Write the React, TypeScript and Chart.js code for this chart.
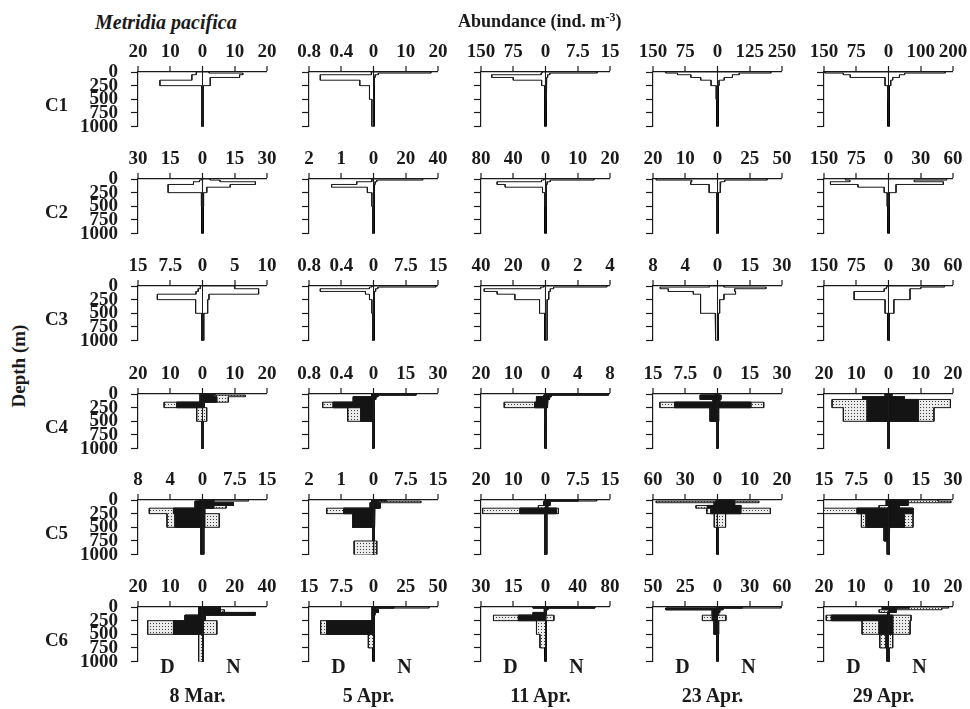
import React, { useEffect, useRef } from 'react';
import { Chart, registerables } from 'chart.js';

Chart.register(...registerables);

// Sampling layers (m) and axis ticks
const DEPTH_EDGES = [0, 20, 50, 100, 150, 250, 500, 750, 1000];
const DEPTH_TICKS = [0, 250, 500, 750, 1000];
const DATES = ['8 Mar.', '5 Apr.', '11 Apr.', '23 Apr.', '29 Apr.'];
const STAGES = ['C1', 'C2', 'C3', 'C4', 'C5', 'C6'];

// Axis maxima (ind. m-3): day to the left, night to the right; rows = stage, cols = date
const DAY_MAX = [
  [20, 0.8, 150, 150, 150],
  [30, 2, 80, 20, 150],
  [15, 0.8, 40, 8, 150],
  [20, 0.8, 20, 15, 20],
  [8, 2, 20, 60, 15],
  [20, 15, 30, 50, 20],
];
const NIGHT_MAX = [
  [20, 20, 15, 250, 200],
  [30, 40, 20, 50, 60],
  [10, 15, 4, 30, 60],
  [20, 30, 8, 30, 20],
  [15, 15, 15, 20, 30],
  [40, 50, 80, 60, 20],
];

// C1-C3: abundance per layer (one array per date)
const c1Day = [
  [1.8, 2, 3.3, 3.3, 13.2, 0.3, 0.2, 0.2],
  [0.02, 0.03, 0.66, 0.66, 0.17, 0.05, 0.02, 0.02],
  [8, 10, 125, 75, 9, 1, 0.5, 0.5],
  [120, 93, 62, 39, 15, 3, 0.5, 0.5],
  [148, 105, 89, 8, 8, 2, 0.5, 0.5],
];
const c1Night = [
  [2, 12.5, 11.5, 2.4, 2.4, 0.3, 0.2, 0.2],
  [17.8, 1.5, 0.5, 0.3, 0.2, 0.1, 0.1, 0.1],
  [12, 1, 0.5, 0.3, 0.2, 0.2, 0.1, 0.1],
  [207, 84, 58, 26, 6, 1, 0.5, 0.5],
  [176, 50, 34, 13, 7, 1, 0.5, 0.5],
];
const c2Day = [
  [0.5, 1.4, 4.2, 16, 16, 0.5, 0.2, 0.2],
  [0.05, 0.05, 0.52, 1.3, 0.19, 0.05, 0.02, 0.02],
  [2, 5, 60, 50, 3.7, 1, 0.3, 0.3],
  [19, 8, 8.3, 2.6, 2.6, 0.3, 0.2, 0.2],
  [100, 90, 135, 71, 10, 3, 1, 0.5],
];
const c2Night = [
  [3.6, 8.2, 24.6, 12.9, 2, 0.5, 0.2, 0.2],
  [30.5, 2, 1, 0.3, 0.3, 0.2, 0.1, 0.1],
  [15, 1.5, 0.5, 0.3, 0.3, 0.2, 0.1, 0.1],
  [38.5, 5.6, 2.6, 2, 2, 0.3, 0.2, 0.2],
  [54, 24, 51, 7, 7, 0.5, 0.3, 0.3],
];
const c3Day = [
  [0.5, 0.5, 1, 1.5, 10.5, 1.6, 0.2, 0.2],
  [0.02, 0.05, 0.66, 0.1, 0.05, 0.02, 0.01, 0.01],
  [1, 3, 38, 30, 19, 3.7, 0.3, 0.3],
  [1, 7.1, 6.1, 3, 2.1, 2.1, 0.3, 0.2],
  [3, 5, 10, 80, 80, 8, 0.5, 0.5],
];
const c3Night = [
  [5, 5, 8.7, 8.7, 1, 0.8, 0.2, 0.2],
  [14.5, 1, 0.5, 0.2, 0.2, 0.1, 0.1, 0.1],
  [3.8, 0.5, 0.3, 0.2, 0.2, 0.1, 0.1, 0.1],
  [3, 22.5, 8, 8.4, 3, 1, 0.3, 0.2],
  [52, 30, 20, 20, 20, 5, 0.5, 0.5],
];

// C4-C6: solid part and stippled part (stacked outward)
const c4DayBlack = [
  [0.7, 0.7, 0.7, 0.7, 8, 0, 0.3, 0.3],
  [0.02, 0.02, 0.25, 0.25, 0.5, 0.16, 0.01, 0.01],
  [0.3, 0.5, 2.8, 2.8, 3.3, 0.2, 0.1, 0.1],
  [0.5, 4, 4, 1, 10, 1.7, 0.2, 0.2],
  [1, 1, 8, 6.6, 6.6, 6.6, 0.2, 0.2],
];
const c4DayDot = [
  [0, 0, 0, 0, 3.9, 1.8, 0, 0],
  [0, 0, 0, 0, 0.13, 0.16, 0, 0],
  [0, 0, 0, 0, 9.5, 0, 0, 0],
  [0, 0, 0, 0, 3.4, 0, 0, 0],
  [0, 0, 0, 10.9, 10.9, 7.4, 0, 0],
];
const c4NightBlack = [
  [3.9, 3, 4.4, 4.4, 0.5, 0, 0.3, 0.3],
  [19.8, 2, 1, 0.5, 0.3, 0.2, 0.1, 0.1],
  [7.8, 0.7, 0.5, 0.3, 0.2, 0.1, 0.1, 0.1],
  [0.5, 1.5, 1.5, 1, 15.5, 0.5, 0.2, 0.2],
  [1, 1, 4.9, 9.2, 9.2, 9.2, 0.2, 0.2],
];
const c4NightDot = [
  [0, 10.3, 3.6, 3.6, 0, 1.3, 0, 0],
  [0, 0, 0, 0, 0, 0, 0, 0],
  [0, 0, 0, 0, 0, 0, 0, 0],
  [0, 0, 0, 0, 6, 0, 0, 0],
  [0, 0, 0, 10, 10, 4.9, 0, 0],
];
const c5DayBlack = [
  [0.3, 0.9, 0.9, 0.9, 3.6, 3.4, 0.2, 0.2],
  [0.05, 0.05, 0.1, 0.1, 0.93, 0.65, 0.02, 0],
  [0.3, 0.5, 0.5, 0, 7.9, 0.3, 0.3, 0.3],
  [0.3, 2, 3, 9.4, 6, 0, 0.2, 0.2],
  [0.5, 0.5, 0.5, 0, 7.3, 5.2, 1, 0.3],
];
const c5DayDot = [
  [0, 0, 0, 0, 3, 1, 0, 0],
  [0, 0, 0, 0, 0.52, 0, 0, 0.6],
  [0, 0, 0, 2.2, 11.6, 0, 0, 0],
  [0, 55, 0, 10.6, 4, 3, 0, 0],
  [0, 0, 0, 2.2, 7.9, 1.1, 0, 0],
];
const c5NightBlack = [
  [2.6, 2.6, 7.2, 2.6, 0.5, 0.5, 0.3, 0.3],
  [3, 1, 1.5, 1.5, 0.3, 0.2, 0.1, 0],
  [7.6, 1, 1, 0.5, 2.5, 0.3, 0.3, 0.3],
  [5.3, 5.3, 5.3, 7.2, 7.2, 0, 0.2, 0.2],
  [9, 9, 9, 5, 11.4, 7.4, 0.5, 0.3],
];
const c5NightDot = [
  [8.1, 0, 0, 2.9, 0, 3.4, 0, 0],
  [0, 10, 0, 0, 0, 0, 0, 0.76],
  [4.3, 0, 0, 0, 0.5, 0, 0, 0],
  [0, 7.5, 0, 0, 9.2, 2.5, 0, 0],
  [14, 20, 0, 0, 0, 4, 0, 0],
];
const c6DayBlack = [
  [1.2, 1.2, 1.2, 1.2, 5.4, 9, 0, 0],
  [0.3, 0.3, 0.3, 0.3, 0.3, 10.9, 0, 0],
  [5.7, 0.5, 0.5, 5.7, 12.6, 0, 0, 0],
  [0.5, 40, 4, 4, 4, 2.6, 0.3, 0.3],
  [1.9, 1.9, 0, 0, 17.7, 2.9, 0.8, 0.5],
];
const c6DayDot = [
  [0, 0, 0, 0, 0, 8, 1.2, 1.2],
  [0, 0, 0, 0, 0, 1.4, 1.2, 0],
  [0, 0, 0, 0, 11.6, 4.2, 2.6, 0],
  [0, 0, 0, 0, 7.7, 0, 0, 0],
  [0, 0, 2.9, 0, 1.6, 5.3, 1.9, 0],
];
const c6NightBlack = [
  [11, 11, 11, 32.7, 1.6, 0.5, 0.5, 0.5],
  [15.7, 1, 3.8, 1, 0.3, 0.3, 0.3, 0.3],
  [61, 3, 0.5, 0.5, 0, 0.5, 0.5, 0.5],
  [23, 5, 2, 1, 0, 1, 0.3, 0.3],
  [6.5, 2.5, 2.3, 0, 1.3, 1.3, 0, 0.3],
];
const c6NightDot = [
  [0, 0, 2.5, 0, 0, 8.4, 0, 0],
  [27.3, 0, 0, 0, 0, 0, 0, 0],
  [0, 0, 0, 0, 10.4, 0, 0, 0],
  [36, 0, 0, 0, 7.8, 0, 0, 0],
  [12.1, 14, 0, 0, 5.7, 5.4, 1.3, 0],
];

const WHITE_DAY = [c1Day, c2Day, c3Day];
const WHITE_NIGHT = [c1Night, c2Night, c3Night];
const BLACK_DAY = [c4DayBlack, c5DayBlack, c6DayBlack];
const DOT_DAY = [c4DayDot, c5DayDot, c6DayDot];
const BLACK_NIGHT = [c4NightBlack, c5NightBlack, c6NightBlack];
const DOT_NIGHT = [c4NightDot, c5NightDot, c6NightDot];

// Page geometry
const COL_LEFT = [138, 309, 481, 653, 824];
const ROW_TOP = [72, 179, 286, 394, 500, 607];
const PLOT_W = 129;
const PLOT_H = 65;
const Y_AXIS_W = 70;
const X_AXIS_H = 36;
const PAD_R = 26;
const PAD_B = 14;

const INK = '#1a1a1a';
const SERIF = "'Liberation Serif', 'Times New Roman', serif";
const TICK_FONT = { family: SERIF, size: 19, weight: 'bold' as const };

const fmt = (v: number) => String(Math.round(v * 100) / 100);

// Closed outline of a layer spanning from `inner` to `outer` in each depth bin
function bandPolygon(inner: number[], outer: number[]) {
  const pts: { x: number; y: number }[] = [];
  pts.push({ x: inner[0], y: DEPTH_EDGES[0] });
  for (let i = 0; i < outer.length; i++) {
    pts.push({ x: outer[i], y: DEPTH_EDGES[i] });
    pts.push({ x: outer[i], y: DEPTH_EDGES[i + 1] });
  }
  for (let i = inner.length - 1; i >= 0; i--) {
    pts.push({ x: inner[i], y: DEPTH_EDGES[i + 1] });
    pts.push({ x: inner[i], y: DEPTH_EDGES[i] });
  }
  return pts;
}

function makeStipple(): CanvasPattern | string {
  const c = document.createElement('canvas');
  c.width = 3;
  c.height = 3;
  const g = c.getContext('2d');
  if (!g) return '#ccc';
  g.fillStyle = '#ececec';
  g.fillRect(0, 0, 3, 3);
  g.fillStyle = '#3a3a3a';
  g.fillRect(1, 1, 1, 1);
  return g.createPattern(c, 'repeat') || '#ccc';
}

function layerDataset(data: { x: number; y: number }[], axis: string, fill: any) {
  return {
    data,
    xAxisID: axis,
    yAxisID: 'y',
    showLine: true,
    fill: 'shape',
    backgroundColor: fill,
    borderColor: INK,
    borderWidth: 1,
    pointRadius: 0,
    tension: 0,
  };
}

function buildDatasets(row: number, col: number, stipple: any) {
  const zeros = DEPTH_EDGES.slice(1).map(() => 0);
  const sets: any[] = [];
  if (row < 3) {
    sets.push(layerDataset(bandPolygon(zeros, WHITE_DAY[row][col]), 'xDay', '#ffffff'));
    sets.push(layerDataset(bandPolygon(zeros, WHITE_NIGHT[row][col]), 'xNight', '#ffffff'));
  } else {
    const k = row - 3;
    const sides: [number[], number[], string][] = [
      [BLACK_DAY[k][col], DOT_DAY[k][col], 'xDay'],
      [BLACK_NIGHT[k][col], DOT_NIGHT[k][col], 'xNight'],
    ];
    for (const [black, dot, axis] of sides) {
      const total = black.map((b, i) => b + dot[i]);
      sets.push(layerDataset(bandPolygon(zeros, black), axis, '#141414'));
      sets.push(layerDataset(bandPolygon(black, total), axis, stipple));
    }
  }
  return sets;
}

function Panel({ row, col }: { row: number; col: number }) {
  const ref = useRef<HTMLCanvasElement | null>(null);
  useEffect(() => {
    if (!ref.current) return;
    const L = DAY_MAX[row][col];
    const R = NIGHT_MAX[row][col];
    const chart = new Chart(ref.current, {
      type: 'scatter',
      data: { datasets: buildDatasets(row, col, makeStipple()) },
      options: {
        animation: false,
        responsive: false,
        devicePixelRatio: 1,
        events: [],
        layout: { padding: { left: 0, top: 0, right: PAD_R, bottom: PAD_B } },
        plugins: { legend: { display: false }, tooltip: { enabled: false } },
        scales: {
          xNight: {
            type: 'linear',
            position: 'top',
            min: -R,
            max: R,
            afterBuildTicks: (s: any) => {
              s.ticks = [-R, -R / 2, 0, R / 2, R].map((value) => ({ value }));
            },
            afterFit: (s: any) => {
              s.height = X_AXIS_H;
            },
            ticks: {
              autoSkip: false,
              maxRotation: 0,
              minRotation: 0,
              padding: 3,
              color: INK,
              font: TICK_FONT,
              callback: (v: any) => fmt(v < 0 ? (-v / R) * L : v),
            },
            grid: {
              drawOnChartArea: true,
              drawTicks: true,
              tickLength: 6,
              tickWidth: 1.2,
              tickColor: INK,
              color: (c: any) => (c.tick && c.tick.value === 0 ? '#000' : 'rgba(0,0,0,0)'),
              lineWidth: (c: any) => (c.tick && c.tick.value === 0 ? 3 : 0),
            },
            border: { display: true, color: INK, width: 1.2 },
          },
          xDay: { type: 'linear', display: false, min: -L, max: L, reverse: true },
          y: {
            type: 'linear',
            position: 'left',
            reverse: true,
            min: 0,
            max: 1000,
            afterBuildTicks: (s: any) => {
              s.ticks = DEPTH_TICKS.map((value) => ({ value }));
            },
            afterFit: (s: any) => {
              s.width = Y_AXIS_W;
            },
            ticks: {
              autoSkip: false,
              padding: 13,
              color: INK,
              font: TICK_FONT,
              callback: (v: any) => (col === 0 ? String(v) : ''),
            },
            grid: { drawOnChartArea: false, drawTicks: true, tickLength: 7, tickWidth: 1.2, tickColor: INK },
            border: { display: true, color: INK, width: 1.2 },
          },
        },
      } as any,
    });
    return () => chart.destroy();
  }, [row, col]);

  const w = Y_AXIS_W + PLOT_W + PAD_R;
  const h = X_AXIS_H + PLOT_H + PAD_B;
  return (
    <canvas
      ref={ref}
      width={w}
      height={h}
      style={{
        position: 'absolute',
        left: COL_LEFT[col] - Y_AXIS_W,
        top: ROW_TOP[row] - X_AXIS_H,
        width: w,
        height: h,
        display: 'block',
      }}
    />
  );
}

function Label({ text, cx, cy, size = 19, italic = false }: any) {
  // cy is the vertical centre of the capitals
  const capCentre = size * 0.84 - size * 0.33;
  return (
    <div
      style={{
        position: 'absolute',
        left: cx - 80,
        width: 160,
        top: cy - capCentre,
        textAlign: 'center',
        fontSize: size,
        lineHeight: `${size}px`,
        fontStyle: italic ? 'italic' : 'normal',
        whiteSpace: 'nowrap',
      }}
    >
      {text}
    </div>
  );
}

export default function App() {
  const centres = COL_LEFT.map((l) => l + PLOT_W / 2);
  const panels: JSX.Element[] = [];
  STAGES.forEach((_, r) => DATES.forEach((__, c) => panels.push(<Panel key={`${r}-${c}`} row={r} col={c} />)));
  return (
    <div
      style={{
        position: 'fixed',
        left: 0,
        top: 0,
        width: 970,
        height: 709,
        background: '#fff',
        color: INK,
        fontFamily: SERIF,
        fontWeight: 'bold',
        overflow: 'hidden',
      }}
    >
      {panels}
      <div
        style={{
          position: 'absolute',
          left: 95,
          top: 12,
          fontSize: 20,
          lineHeight: '20px',
          fontStyle: 'italic',
          whiteSpace: 'nowrap',
        }}
      >
        Metridia pacifica
      </div>
      <div style={{ position: 'absolute', left: 458, top: 12, fontSize: 18, lineHeight: '18px', whiteSpace: 'nowrap' }}>
        Abundance (ind. m<sup style={{ fontSize: 12, lineHeight: 0, verticalAlign: 6 }}>-3</sup>)
      </div>
      <div
        style={{
          position: 'absolute',
          left: 18.5 - 60,
          top: 365.5 - 10,
          width: 120,
          height: 20,
          fontSize: 19,
          lineHeight: '20px',
          textAlign: 'center',
          transform: 'rotate(-90deg)',
          whiteSpace: 'nowrap',
        }}
      >
        Depth (m)
      </div>
      {STAGES.map((s, r) => (
        <Label key={s} text={s} cx={56.5} cy={ROW_TOP[r] + 33} size={19} />
      ))}
      {DATES.map((d, c) => (
        <Label key={d} text={d} cx={centres[c] - 5} cy={695} size={20} />
      ))}
      {centres.map((cx, c) => (
        <React.Fragment key={`dn-${c}`}>
          <Label text="D" cx={cx - 35} cy={666.5} size={20} />
          <Label text="N" cx={cx + 31} cy={666.5} size={20} />
        </React.Fragment>
      ))}
    </div>
  );
}
